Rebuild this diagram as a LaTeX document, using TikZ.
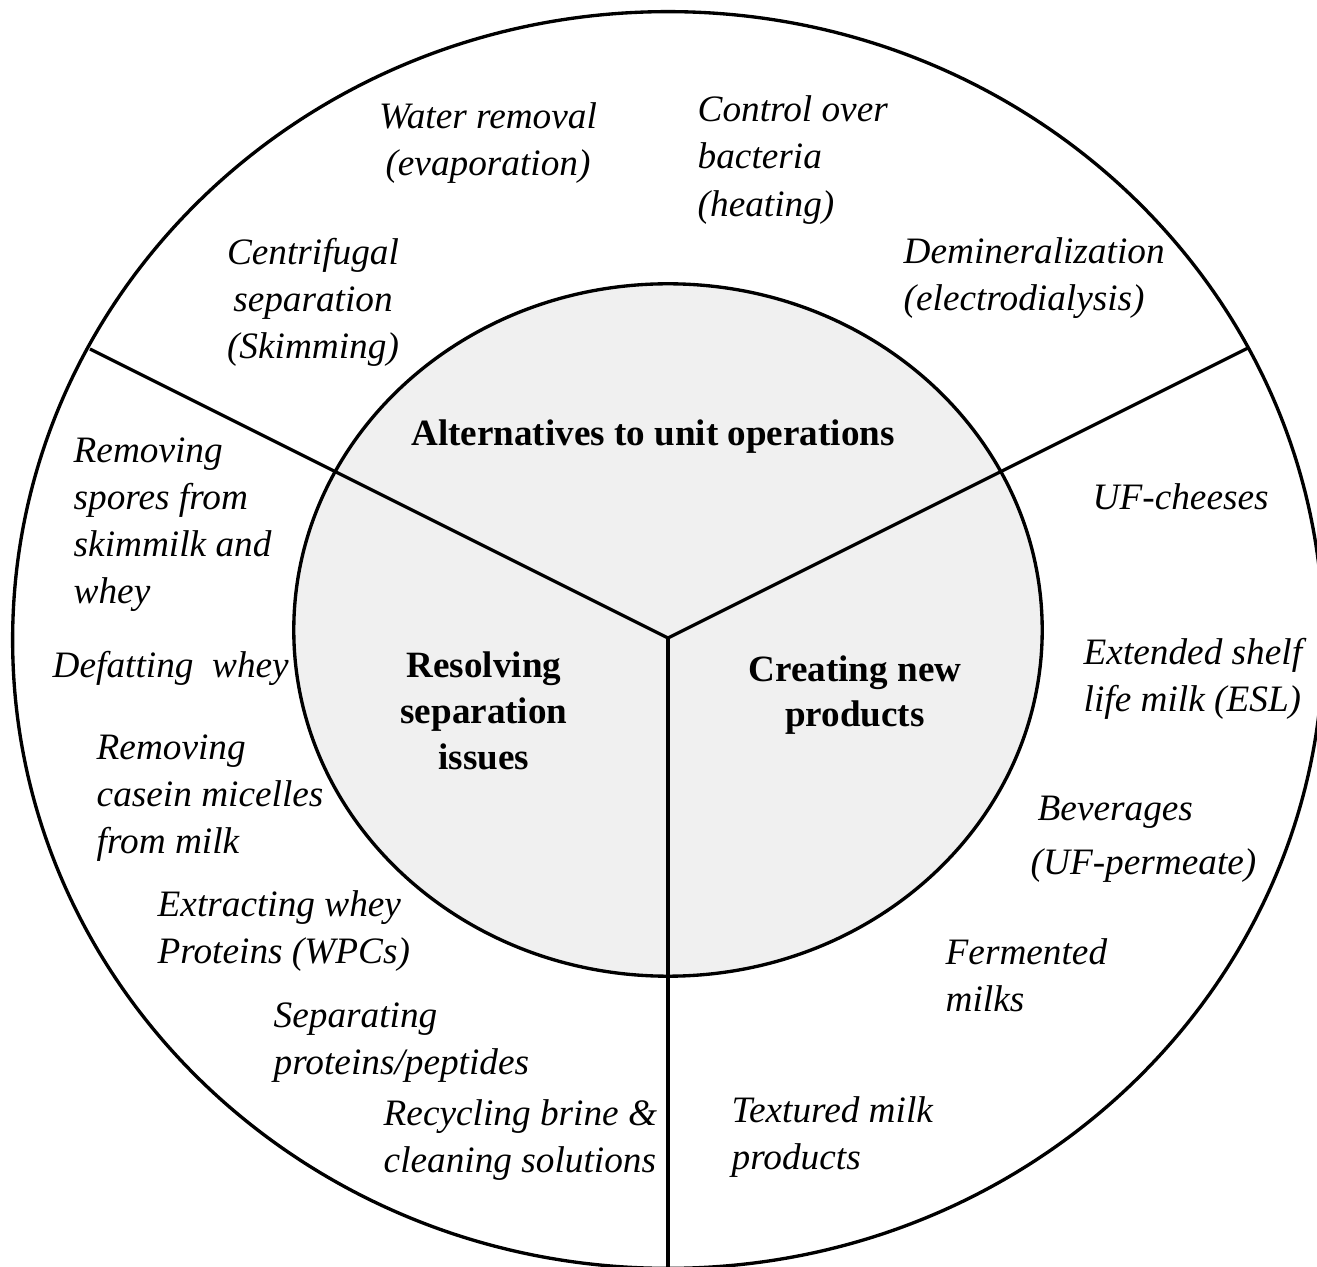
\documentclass[tikz,border=0pt]{standalone}
\usepackage{fontspec}
\setmainfont{Liberation Serif}
\definecolor{hubfill}{gray}{0.94}

\begin{document}
\begin{tikzpicture}[x=0.01cm,y=-0.01cm,
  ring/.style={line width=0.95pt},
  item/.style={font=\itshape\fontsize{10.6}{13.4}\selectfont,align=left,
    inner sep=0pt,anchor=west},
  itemc/.style={item,align=center,anchor=center},
  theme/.style={font=\bfseries\fontsize{10.55}{13}\selectfont,align=center,
    inner sep=0pt}]
  \useasboundingbox (0,0) rectangle (1317,1267);
  \clip (0,0) rectangle (1317,1267);
  % hub and rim
  \draw[ring,fill=hubfill] (668,630) ellipse [x radius=3.74cm,y radius=3.46cm];
  \draw[ring] (668,640) ellipse [x radius=6.55cm,y radius=6.28cm];
  \coordinate (hub) at (668,638);
  \coordinate (rimA) at (90,349);
  \coordinate (rimB) at (1248,348);
  \coordinate (rimC) at (668,1280);
  \draw[ring] (hub) -- (rimA);
  \draw[ring] (hub) -- (rimB);
  \draw[ring] (hub) -- (rimC);
  % themes
  \node[theme] (alt) at (653,437) {Alternatives to unit operations};
  \node[theme] (resolve) at (484,711) {Resolving\\separation\\issues};
  \node[theme] (create) at (855,695) {Creating new\\products};
  % unit operations
  \node[itemc] (water) at (488,143) {Water removal\\(evaporation)};
  \node[item] (control) at (697,160) {Control over\\bacteria\\(heating)};
  \node[itemc] (centrif) at (313,302) {Centrifugal\\separation\\(Skimming)};
  \node[item] (demin) at (903,278) {Demineralization\\(electrodialysis)};
  % separation issues
  \node[item] (spores) at (73,525) {Removing\\spores from\\skimmilk and\\whey};
  \node[item] (defat) at (52,668) {Defatting~ whey};
  \node[item] (casein) at (96,798) {Removing\\casein micelles\\from milk};
  \node[item] (wpc) at (157,931) {Extracting whey\\Proteins (WPCs)};
  \node[item] (peptide) at (273,1043) {Separating\\proteins/peptides};
  \node[item] (brine) at (383,1140) {Recycling brine \&\\cleaning solutions};
  % new products
  \node[item] (ufch) at (1092,497) {UF-cheeses};
  \node[item] (esl) at (1083,679) {Extended shelf\\life milk (ESL)};
  \node[item] (bev) at (1030,839) {\hspace*{0.07cm}Beverages\\[0.07cm](UF-permeate)};
  \node[item] (ferm) at (945,975) {Fermented\\milks};
  \node[item] (texture) at (731,1137) {Textured milk\\products};
\end{tikzpicture}
\end{document}
